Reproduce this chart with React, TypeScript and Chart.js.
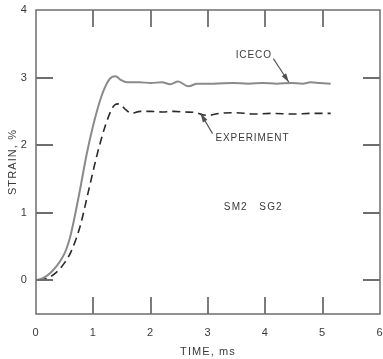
import React, { useEffect, useRef } from "react";
import { Chart, registerables } from "chart.js";

Chart.register(...registerables);

// ICECO (computed) strain history
const ICECO_TIME = [0, 0.12, 0.24, 0.37, 0.45, 0.52, 0.59, 0.66, 0.77, 0.88, 1.0, 1.14, 1.26, 1.33, 1.39, 1.47, 1.59, 1.8, 2.0, 2.2, 2.34, 2.48, 2.66, 2.81, 3.1, 3.44, 3.7, 3.95, 4.2, 4.45, 4.65, 4.79, 4.95, 5.14];
const ICECO_STRAIN = [0, 0.03, 0.1, 0.22, 0.32, 0.44, 0.62, 0.88, 1.35, 1.85, 2.3, 2.72, 2.95, 3.01, 3.02, 2.97, 2.93, 2.93, 2.92, 2.93, 2.9, 2.94, 2.87, 2.91, 2.91, 2.92, 2.91, 2.92, 2.91, 2.92, 2.91, 2.93, 2.92, 2.91];

// Experimental strain history
const EXP_TIME = [0.05, 0.2, 0.36, 0.5, 0.61, 0.77, 0.91, 1.06, 1.21, 1.32, 1.38, 1.44, 1.5, 1.57, 1.67, 1.82, 2.0, 2.2, 2.4, 2.6, 2.8, 2.9, 3.0, 3.2, 3.5, 3.8, 4.1, 4.5, 4.8, 5.14];
const EXP_STRAIN = [0, 0.03, 0.12, 0.26, 0.42, 0.8, 1.3, 1.84, 2.29, 2.53, 2.6, 2.61, 2.58, 2.52, 2.47, 2.5, 2.5, 2.49, 2.5, 2.49, 2.48, 2.45, 2.44, 2.47, 2.48, 2.46, 2.47, 2.46, 2.47, 2.47];

const X_TICKS = [0, 1, 2, 3, 4, 5, 6];
const Y_TICKS = [0, 1, 2, 3, 4];
const X_INNER_TICKS = [1, 2, 3, 4, 5];
const Y_INNER_TICKS = [0, 1, 2, 3];

const TEXT_COLOR = "#3a3a3a";
const AXIS_COLOR = "#6e6e6e";
const FONT_FAMILY = "'Liberation Sans', Arial, sans-serif";

const spacingPlugin = {
  id: "spacing",
  beforeLayout(chart: any) {
    (chart.ctx as any).letterSpacing = "1.1px";
  },
  beforeDraw(chart: any) {
    (chart.ctx as any).letterSpacing = "1.1px";
  },
};

const framePlugin = {
  id: "frameAndNotes",
  afterDraw(chart: any) {
    const ctx: CanvasRenderingContext2D = chart.ctx;
    const { chartArea } = chart;
    const xs = chart.scales.x;
    const ys = chart.scales.y;
    const left = chartArea.left;
    const right = chartArea.right;
    const top = chartArea.top;
    const bottom = chartArea.bottom;
    const TL = 17;
    ctx.save();
    ctx.setLineDash([]);
    ctx.strokeStyle = AXIS_COLOR;
    ctx.lineWidth = 1.5;
    ctx.beginPath();
    ctx.moveTo(left, top);
    ctx.lineTo(right, top);
    ctx.lineTo(right, bottom);
    ctx.lineTo(left, bottom);
    ctx.closePath();
    ctx.stroke();
    ctx.lineWidth = 1.8;
    ctx.beginPath();
    X_INNER_TICKS.forEach((v) => {
      const px = Math.round(xs.getPixelForValue(v));
      ctx.moveTo(px, bottom);
      ctx.lineTo(px, bottom - TL);
      ctx.moveTo(px, top);
      ctx.lineTo(px, top + TL);
    });
    Y_INNER_TICKS.forEach((v) => {
      const py = Math.round(ys.getPixelForValue(v));
      ctx.moveTo(left, py);
      ctx.lineTo(left + TL, py);
      ctx.moveTo(right, py);
      ctx.lineTo(right - TL, py);
    });
    ctx.stroke();

    // annotations
    (ctx as any).letterSpacing = "0px";
    ctx.fillStyle = TEXT_COLOR;
    ctx.font = `10px ${FONT_FAMILY}`;
    ctx.textBaseline = "middle";
    const drawSpaced = (text: string, x: number, y: number, align: string, spacing: number) => {
      let w = 0;
      for (const ch of text) w += ctx.measureText(ch).width + spacing;
      w -= spacing;
      let cx = align === "center" ? x - w / 2 : x;
      ctx.textAlign = "left";
      for (const ch of text) {
        ctx.fillText(ch, cx, y);
        cx += ctx.measureText(ch).width + spacing;
      }
    };
    const P = (x: number, y: number) => [xs.getPixelForValue(x), ys.getPixelForValue(y)];
    let [tx, ty] = P(3.79, 3.33);
    drawSpaced("ICECO", tx, ty, "center", 0.9);
    [tx, ty] = P(3.13, 2.1);
    drawSpaced("EXPERIMENT", tx, ty, "left", 0.9);
    [tx, ty] = P(3.78, 1.08);
    drawSpaced("SM2   SG2", tx, ty, "center", 1.1);

    const arrow = (x0: number, y0: number, x1: number, y1: number) => {
      const [ax, ay] = P(x0, y0);
      const [bx, by] = P(x1, y1);
      ctx.strokeStyle = "#505050";
      ctx.fillStyle = "#505050";
      ctx.lineWidth = 1.1;
      ctx.beginPath();
      ctx.moveTo(ax, ay);
      ctx.lineTo(bx, by);
      ctx.stroke();
      const ang = Math.atan2(by - ay, bx - ax);
      const L = 9;
      const W = 2.6;
      ctx.beginPath();
      ctx.moveTo(bx, by);
      ctx.lineTo(bx - L * Math.cos(ang) + W * Math.sin(ang), by - L * Math.sin(ang) - W * Math.cos(ang));
      ctx.lineTo(bx - L * Math.cos(ang) - W * Math.sin(ang), by - L * Math.sin(ang) + W * Math.cos(ang));
      ctx.closePath();
      ctx.fill();
    };
    arrow(4.14, 3.28, 4.41, 2.93);
    arrow(3.08, 2.17, 2.87, 2.47);
    ctx.restore();
  },
};

export default function App() {
  const ref = useRef<HTMLCanvasElement | null>(null);
  useEffect(() => {
    document.body.style.margin = "0";
    const canvas = ref.current;
    if (!canvas) return;
    const chart = new Chart(canvas, {
      type: "line",
      data: {
        datasets: [
          {
            label: "ICECO",
            data: ICECO_TIME.map((t, i) => ({ x: t, y: ICECO_STRAIN[i] })),
            borderColor: "#8a8a8a",
            borderWidth: 2,
            pointRadius: 0,
            fill: false,
            cubicInterpolationMode: "monotone",
          },
          {
            label: "EXPERIMENT",
            data: EXP_TIME.map((t, i) => ({ x: t, y: EXP_STRAIN[i] })),
            borderColor: "#2a2a2a",
            borderWidth: 1.6,
            borderDash: [8, 5],
            pointRadius: 0,
            fill: false,
            cubicInterpolationMode: "monotone",
          },
        ],
      },
      options: {
        animation: false,
        responsive: false,
        layout: { padding: { top: 10, right: 3, left: 0, bottom: 0 } },
        plugins: { legend: { display: false }, tooltip: { enabled: false } },
        scales: {
          x: {
            type: "linear",
            min: 0,
            max: 6,
            afterBuildTicks: (s: any) => {
              s.ticks = X_TICKS.map((v) => ({ value: v }));
            },
            afterFit: (s: any) => {
              s.height = 45;
              s.paddingLeft = 0;
              s.paddingRight = 0;
            },
            grid: { display: false, drawTicks: false },
            border: { display: false },
            ticks: {
              padding: 12,
              color: TEXT_COLOR,
              font: { family: FONT_FAMILY, size: 11 },
              maxRotation: 0,
            },
            title: {
              display: true,
              text: "TIME, ms",
              color: TEXT_COLOR,
              font: { family: FONT_FAMILY, size: 11 },
              padding: { top: 4, bottom: 0 },
            },
          },
          y: {
            type: "linear",
            min: -0.5,
            max: 4,
            afterBuildTicks: (s: any) => {
              s.ticks = Y_TICKS.map((v) => ({ value: v }));
            },
            afterFit: (s: any) => {
              s.width = 36;
              s.paddingTop = 0;
              s.paddingBottom = 0;
            },
            grid: { display: false, drawTicks: false },
            border: { display: false },
            ticks: {
              padding: 8,
              color: TEXT_COLOR,
              font: { family: FONT_FAMILY, size: 11 },
            },
            title: {
              display: true,
              text: "STRAIN, %",
              color: TEXT_COLOR,
              font: { family: FONT_FAMILY, size: 11 },
              padding: { top: 6, bottom: 0 },
            },
          },
        },
      },
      plugins: [spacingPlugin, framePlugin],
    } as any);
    return () => chart.destroy();
  }, []);
  return (
    <div style={{ position: "absolute", left: 0, top: 0 }}>
      <canvas ref={ref} width={383} height={359} style={{ display: "block" }} />
    </div>
  );
}
